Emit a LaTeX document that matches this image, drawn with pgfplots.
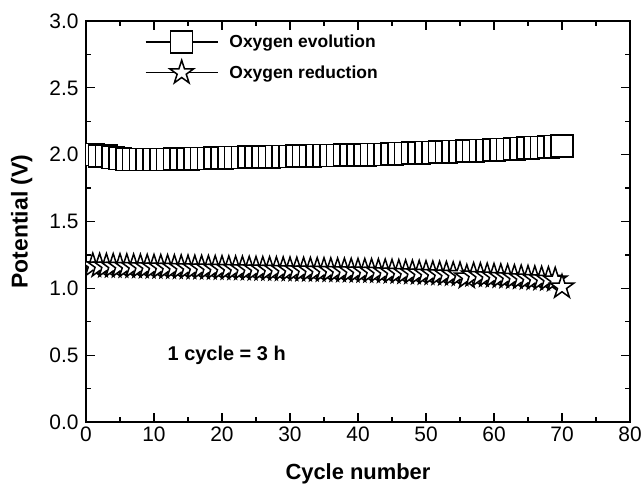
\documentclass[border=0pt]{standalone}
\usepackage{fontspec}
\setmainfont{Liberation Sans}
\usepackage{pgfplots}
\usepackage{pgfplotstable}
\pgfplotsset{compat=1.18}

% Five-pointed open star (outer radius = mark size)
\pgfdeclareplotmark{pentastar}{%
  \pgfpathmoveto{\pgfpointpolar{90}{\pgfplotmarksize}}%
  \pgfpathlineto{\pgfpointpolar{126}{0.382\pgfplotmarksize}}%
  \pgfpathlineto{\pgfpointpolar{162}{\pgfplotmarksize}}%
  \pgfpathlineto{\pgfpointpolar{198}{0.382\pgfplotmarksize}}%
  \pgfpathlineto{\pgfpointpolar{234}{\pgfplotmarksize}}%
  \pgfpathlineto{\pgfpointpolar{270}{0.382\pgfplotmarksize}}%
  \pgfpathlineto{\pgfpointpolar{306}{\pgfplotmarksize}}%
  \pgfpathlineto{\pgfpointpolar{342}{0.382\pgfplotmarksize}}%
  \pgfpathlineto{\pgfpointpolar{18}{\pgfplotmarksize}}%
  \pgfpathlineto{\pgfpointpolar{54}{0.382\pgfplotmarksize}}%
  \pgfpathclose
  \pgfusepathqfillstroke
}

% Charge/discharge plateau potentials, one point per cycle
\pgfplotstableread{
cycle evol
1 2.000
2 1.990
3 1.990
4 1.980
5 1.970
6 1.965
7 1.965
8 1.965
9 1.965
10 1.965
11 1.965
12 1.965
13 1.966
14 1.967
15 1.968
16 1.970
17 1.971
18 1.972
19 1.974
20 1.975
21 1.977
22 1.978
23 1.979
24 1.981
25 1.982
26 1.983
27 1.984
28 1.986
29 1.987
30 1.988
31 1.989
32 1.990
33 1.991
34 1.992
35 1.993
36 1.994
37 1.995
38 1.996
39 1.997
40 1.998
41 1.999
42 2.000
43 2.001
44 2.003
45 2.005
46 2.007
47 2.009
48 2.011
49 2.013
50 2.015
51 2.017
52 2.019
53 2.021
54 2.023
55 2.025
56 2.027
57 2.029
58 2.031
59 2.033
60 2.035
61 2.037
62 2.040
63 2.043
64 2.046
65 2.049
66 2.052
67 2.055
68 2.058
69 2.061
70 2.065
}\evolution

\pgfplotstableread{
cycle red
1 1.170
2 1.168
3 1.167
4 1.166
5 1.165
6 1.164
7 1.163
8 1.162
9 1.161
10 1.160
11 1.159
12 1.158
13 1.157
14 1.156
15 1.155
16 1.154
17 1.153
18 1.152
19 1.151
20 1.150
21 1.149
22 1.148
23 1.147
24 1.146
25 1.145
26 1.144
27 1.143
28 1.142
29 1.141
30 1.140
31 1.139
32 1.138
33 1.137
34 1.136
35 1.135
36 1.134
37 1.133
38 1.132
39 1.131
40 1.130
41 1.129
42 1.128
43 1.127
44 1.125
45 1.123
46 1.121
47 1.119
48 1.117
49 1.115
50 1.113
51 1.111
52 1.109
53 1.107
54 1.105
55 1.103
56 1.085
57 1.099
58 1.097
59 1.095
60 1.092
61 1.089
62 1.086
63 1.083
64 1.080
65 1.077
66 1.074
67 1.071
68 1.068
69 1.063
70 1.010
}\reduction

\begin{document}
\begin{tikzpicture}
\begin{axis}[
  scale only axis,
  width=544bp, height=401bp,
  xmin=0, xmax=80, ymin=0, ymax=3,
  xtick={0,10,...,80},
  ytick={0,0.5,1,1.5,2,2.5,3},
  minor x tick num=1, minor y tick num=1,
  xtick pos=both, ytick pos=both,
  tick align=inside,
  major tick length=9bp, minor tick length=5bp,
  axis line style={line width=1.3bp},
  every tick/.style={line width=1.3bp, black},
  clip marker paths=true,
  /pgf/number format/assume math mode=true,
  tick label style={font=\fontsize{21}{23}\selectfont, black},
  yticklabel style={/pgf/number format/.cd, fixed, fixed zerofill, precision=1,
    /tikz/.cd, xshift=-4bp},
  xticklabel style={yshift=-1bp},
  xlabel={Cycle number},
  ylabel={Potential (V)},
  xlabel style={font=\fontsize{22}{24}\selectfont\bfseries,
    at={(axis description cs:0.5,-0.143)}, anchor=base},
  ylabel style={font=\fontsize{23}{25}\selectfont\bfseries,
    at={(axis description cs:-0.118,0.5)}, anchor=center},
  legend style={draw=none, fill=none,
    at={(axis description cs:0.108,0.975)}, anchor=north west,
    font=\fontsize{17.5}{19}\selectfont\bfseries,
    row sep=7bp, inner sep=0pt,
    /tikz/every odd column/.append style={column sep=9bp}},
  legend cell align=left,
  legend image code/.code={
    \draw[mark repeat=2, mark phase=2, #1]
      plot coordinates {(0bp,0bp) (36bp,0bp) (72bp,0bp)};
  },
]
\coordinate (ll) at (rel axis cs:0,0);
\coordinate (ur) at (rel axis cs:1,1);
\addplot[black, line width=1.5bp, mark=square*, mark size=11bp,
  mark options={fill=white, solid}] table[x=cycle, y=evol] {\evolution};
\addlegendentry{Oxygen evolution}
\addplot[black, line width=1.5bp, mark=pentastar, mark size=12.5bp,
  mark options={fill=white, solid}] table[x=cycle, y=red] {\reduction};
\addlegendentry{Oxygen reduction}
\node[anchor=west, font=\fontsize{20}{22}\selectfont\bfseries]
  at (axis cs:11.5,0.5) {1 cycle = 3 h};
\end{axis}
\pgfresetboundingbox
\path[use as bounding box] ([xshift=-86bp,yshift=-62bp]ll) rectangle ([xshift=14bp,yshift=21bp]ur);
\end{tikzpicture}
\end{document}
